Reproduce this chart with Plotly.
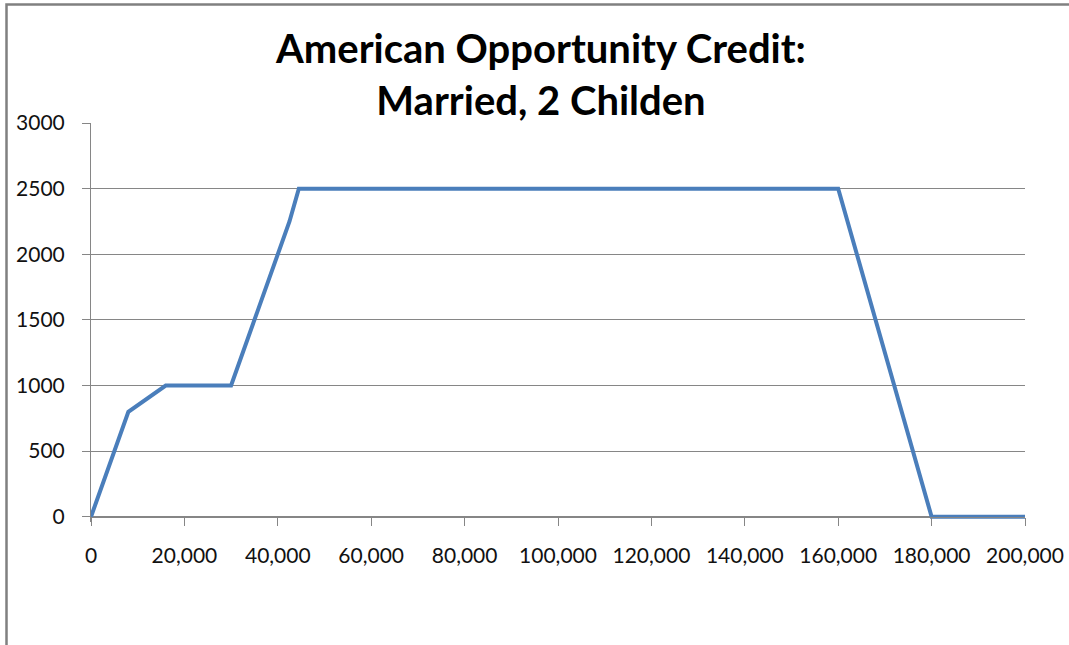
import plotly.graph_objects as go

# Adjusted gross income (USD) and the resulting credit amount (USD)
income = [0, 8000, 16000, 30000, 42500, 44500, 160000, 180000, 200000]
credit = [0, 800, 1000, 1000, 2250, 2500, 2500, 0, 0]

x_ticks = [0, 20000, 40000, 60000, 80000, 100000, 120000, 140000, 160000, 180000, 200000]
y_ticks = [0, 500, 1000, 1500, 2000, 2500, 3000]

title_text = "American Opportunity Credit:<br>Married, 2 Childen"

W, H = 1069, 645
left, right, top, bottom = 91, 1025, 123, 517   # plot-area pixel edges (y=0 at bottom)
pad_units = 40                                   # room below zero so the line is not clipped
px_per_unit = (bottom - top) / y_ticks[-1]
pad_px = pad_units * px_per_unit
plot_h = bottom + pad_px - top

GRID = "#868686"
LINE = "#4a7ebb"
FONT = "Lato, 'Open Sans', sans-serif"

fig = go.Figure()
fig.add_trace(go.Scatter(
    x=income, y=credit, mode="lines",
    line=dict(color=LINE, width=4, shape="linear"),
    hoverinfo="x+y", showlegend=False,
))

fig.update_layout(
    width=W, height=H,
    margin=dict(l=left, r=W - right, t=top, b=H - bottom - pad_px, pad=0,
                autoexpand=False),
    paper_bgcolor="white", plot_bgcolor="white",
    title=dict(
        text=title_text, x=541 / W, xanchor="center", xref="container",
        y=1 - 63 / H, yanchor="top", yref="container",
        font=dict(family=FONT, size=40, color="black", weight="bold"),
    ),
    xaxis=dict(
        range=[x_ticks[0], x_ticks[-1]], tickvals=x_ticks,
        ticktext=[f"{v:,}" for v in x_ticks],
        showgrid=False, zeroline=False, automargin=False,
        showline=True, linecolor=GRID, linewidth=1,
        ticks="outside", ticklen=8, tickcolor=GRID, tickwidth=1,
        anchor="free", position=pad_px / plot_h,
        tickfont=dict(family=FONT, size=21, color="#111111"),
        ticklabelstandoff=12,
    ),
    yaxis=dict(
        range=[-pad_units, y_ticks[-1]], tickvals=y_ticks,
        ticktext=[str(v) for v in y_ticks],
        showgrid=True, gridcolor=GRID, gridwidth=1,
        zeroline=False, automargin=False,
        showline=True, linecolor=GRID, linewidth=1,
        ticks="outside", ticklen=8, tickcolor=GRID, tickwidth=1,
        tickfont=dict(family=FONT, size=21, color="#111111"),
        ticklabelstandoff=13,
    ),
    shapes=[
        # outer chart frame
        dict(type="rect", xref="paper", yref="paper",
             x0=(6.5 - left) / (right - left), x1=1.2,
             y0=-0.5, y1=(bottom + pad_px - 4.5) / plot_h,
             line=dict(color="#808080", width=2.5), fillcolor="rgba(0,0,0,0)",
             layer="below"),
    ],
)

fig.write_html("out.html")
